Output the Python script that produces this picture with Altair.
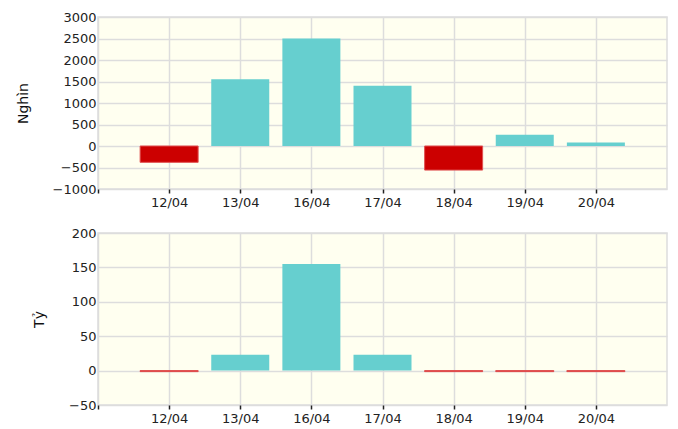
import json
import altair as alt
import pandas as pd

dates = ["12/04", "13/04", "16/04", "17/04", "18/04", "19/04", "20/04"]
nghin = [-380, 1550, 2500, 1400, -560, 260, 80]
ty = [-1.5, 23, 155, 23, -1.5, -1.5, -1.5]

df = pd.DataFrame({"pos": list(range(1, len(dates) + 1)), "date": dates,
                   "nghin": nghin, "ty": ty})

label_expr = json.dumps([""] + dates) + "[datum.value]"
FONT = "DejaVu Sans"
TEAL = "#66CFCF"
RED = "#CC0000"

x_enc = alt.X("pos:Q", scale=alt.Scale(domain=[0, len(dates) + 1], nice=False, zero=False, padding=0),
              axis=alt.Axis(values=list(range(0, len(dates) + 1)), labelExpr=label_expr,
                            title=None, grid=True, tickColor="#222", tickSize=4, tickWidth=1.5,
                            domain=False, labelPadding=3))


def panel(field, title, domain, step):
    neg = alt.datum[field] < 0
    return alt.Chart(df).mark_bar(size=58, strokeWidth=1).encode(
        x=x_enc,
        y=alt.Y(f"{field}:Q", scale=alt.Scale(domain=domain, nice=False),
                axis=alt.Axis(values=list(range(domain[0], domain[1] + 1, step)), title=title,
                              format="d", ticks=False, domain=False, labelPadding=2,
                              titlePadding=22)),
        color=alt.condition(neg, alt.value(RED), alt.value(TEAL)),
        stroke=alt.condition(neg, alt.value("#E05050"), alt.value("transparent")),
    ).properties(width=569, height=172)


top = panel("nghin", "Nghìn", [-1000, 3000], 500)
bottom = panel("ty", "Tỷ", [-50, 200], 50)

chart = alt.vconcat(top, bottom, spacing=16).properties(
    padding={"left": 7, "top": 2, "right": 2, "bottom": 0}
).configure_view(fill="#FFFFF0", stroke="#DDDDDD", strokeWidth=1.5).configure_axis(
    gridColor="#DDDDDD", gridWidth=1.5, labelFont=FONT, labelFontSize=13, labelColor="#222",
    titleFont=FONT, titleFontSize=14, titleFontWeight="normal", titleColor="#111"
)

chart.save("out.html", embed_options={"renderer": "svg", "actions": False})
